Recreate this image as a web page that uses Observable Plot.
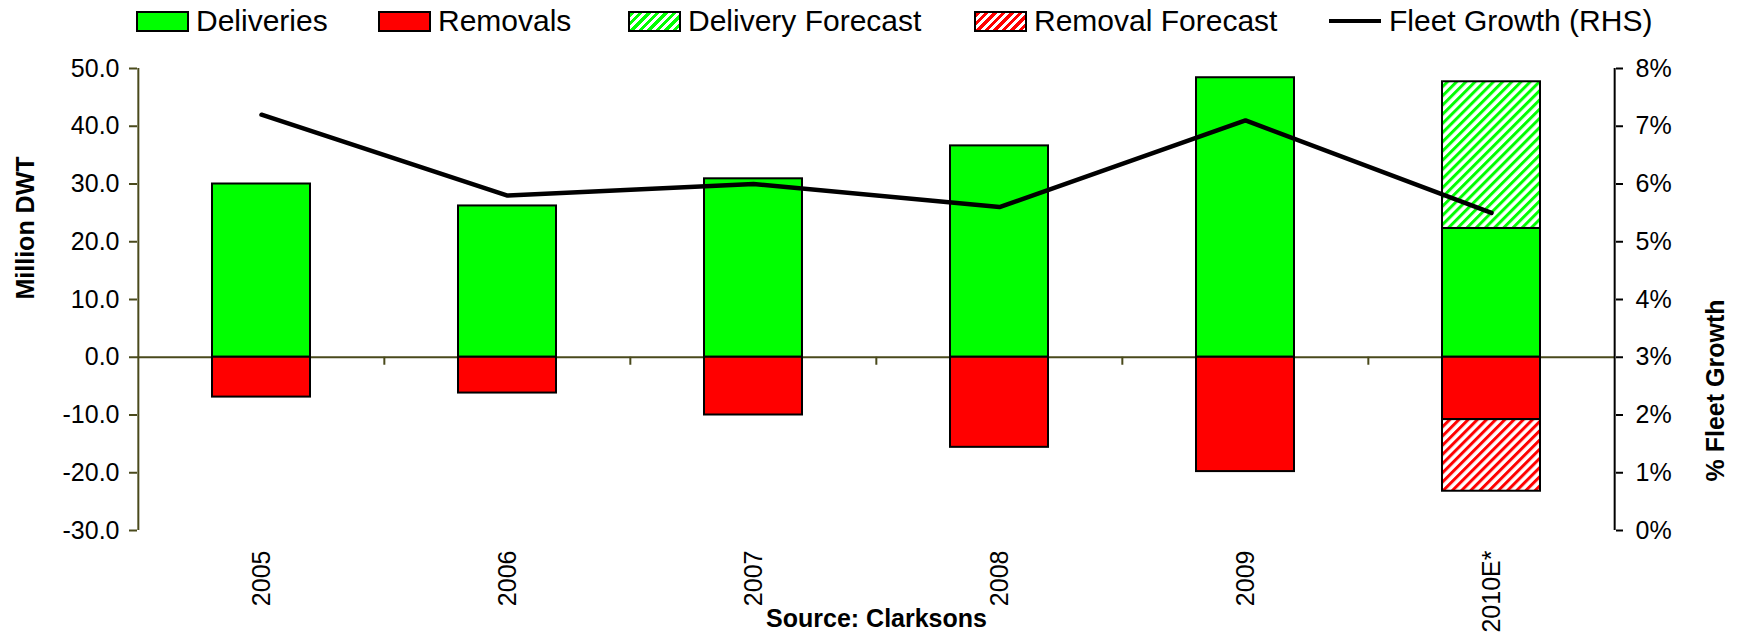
<!DOCTYPE html>
<html><head><meta charset="utf-8">
<script src="https://cdn.jsdelivr.net/npm/d3@7"></script>
<script src="https://cdn.jsdelivr.net/npm/@observablehq/plot@0.6"></script>
<style>
body{margin:0;background:#fff;font-family:"Liberation Sans",Arial,sans-serif;}
#legend{position:relative;width:1738px;height:38px;}
.item{position:absolute;top:0;height:42px;display:flex;align-items:center;font-size:30px;color:#000;white-space:nowrap;}
.sw{width:49px;height:17px;border:2px solid #000;margin-right:7px;box-sizing:content-box;}
.ln{width:52px;height:4px;background:#000;margin-right:8px;}
</style></head><body>
<div id="legend"></div><div id="chart"></div>
<script>
const years = ["2005","2006","2007","2008","2009","2010E*"];
const deliveries = [30.0, 26.2, 30.9, 36.6, 48.4, 22.3];
const deliveryForecast = [0, 0, 0, 0, 0, 25.4];
const removals = [-6.9, -6.2, -10.0, -15.6, -19.8, -10.8];
const removalForecast = [0, 0, 0, 0, 0, -12.4];
const fleetGrowth = [7.2, 5.8, 6.0, 5.6, 7.1, 5.5];
const leftTicks = [-30, -20, -10, 0, 10, 20, 30, 40, 50];
const rightTicks = [0, 1, 2, 3, 4, 5, 6, 7, 8];
const legendItems = ["Deliveries", "Removals", "Delivery Forecast", "Removal Forecast", "Fleet Growth (RHS)"];

const GREEN = "#00ff00", RED = "#ff0000", OLIVE = "#4a4a1c";
const W = 1738, H = 601, ML = 137, MR = 123, MT = 30, MB = 109;
const leftDomain = [leftTicks[0], leftTicks[leftTicks.length - 1]];
const rightDomain = [rightTicks[0], rightTicks[rightTicks.length - 1]];
const toLeft = r => leftDomain[0] + (r - rightDomain[0]) * (leftDomain[1] - leftDomain[0]) / (rightDomain[1] - rightDomain[0]);
const fromLeft = v => rightDomain[0] + (v - leftDomain[0]) * (rightDomain[1] - rightDomain[0]) / (leftDomain[1] - leftDomain[0]);

// legend
const legendStyles = [
  {left: 136, bg: GREEN},
  {left: 378, bg: RED},
  {left: 628, bg: `repeating-linear-gradient(135deg, ${GREEN} 0 3px, #fff 3px 6px)`},
  {left: 974, bg: `repeating-linear-gradient(135deg, ${RED} 0 3px, #fff 3px 6px)`},
  {left: 1329, line: true}
];
const leg = document.getElementById("legend");
legendItems.forEach((name, i) => {
  const s = legendStyles[i];
  const it = document.createElement("div");
  it.className = "item"; it.style.left = s.left + "px";
  const sw = document.createElement("div");
  if (s.line) sw.className = "ln"; else { sw.className = "sw"; sw.style.background = s.bg; }
  it.appendChild(sw);
  const t = document.createElement("span"); t.textContent = name; it.appendChild(t);
  leg.appendChild(it);
});

// data tables
const segs = [];
years.forEach((yr, i) => {
  segs.push({year: yr, kind: "Deliveries", y1: 0, y2: deliveries[i]});
  if (deliveryForecast[i]) segs.push({year: yr, kind: "Delivery Forecast", y1: deliveries[i], y2: deliveries[i] + deliveryForecast[i]});
  segs.push({year: yr, kind: "Removals", y1: 0, y2: removals[i]});
  if (removalForecast[i]) segs.push({year: yr, kind: "Removal Forecast", y1: removals[i], y2: removals[i] + removalForecast[i]});
});
const growth = years.map((yr, i) => ({year: yr, v: toLeft(fleetGrowth[i])}));
const fills = {"Deliveries": GREEN, "Removals": RED, "Delivery Forecast": "url(#hatchG)", "Removal Forecast": "url(#hatchR)"};

const step = (W - ML - MR) / years.length;
const pxPerUnit = (H - MT - MB) / (leftDomain[1] - leftDomain[0]);

const chart = Plot.plot({
  width: W, height: H,
  marginLeft: ML, marginRight: MR, marginTop: MT, marginBottom: MB,
  style: {fontFamily: '"Liberation Sans", Arial, sans-serif', fontSize: "25px", background: "#fff", color: "#000"},
  x: {domain: years, paddingInner: 0.6, paddingOuter: 0.3, align: 0.5},
  y: {domain: leftDomain},
  marks: [
    Plot.ruleY([0], {stroke: OLIVE, strokeWidth: 2}),
    Plot.ruleX(years.slice(1), {x: d => d, y1: 0, y2: -8 / pxPerUnit, dx: -step / 2, stroke: OLIVE, strokeWidth: 2}),
    // left and right axis lines at the frame edges
    Plot.ruleX([years[0]], {x: d => d, y1: leftDomain[0], y2: leftDomain[1], dx: -step / 2, stroke: OLIVE, strokeWidth: 2}),
    Plot.ruleX([years[years.length - 1]], {x: d => d, y1: leftDomain[0], y2: leftDomain[1], dx: step / 2, stroke: "#000", strokeWidth: 2}),
    ...Object.keys(fills).map(k => Plot.barY(segs.filter(d => d.kind === k), {x: "year", y1: "y1", y2: "y2", fill: fills[k], stroke: "#000", strokeWidth: 2})),
    Plot.line(growth, {x: "year", y: "v", stroke: "#000", strokeWidth: 4.5}),
    Plot.axisY({anchor: "left", ticks: leftTicks, tickFormat: d => d.toFixed(1), tickSize: 8, tickPadding: 10, fontSize: 25, stroke: OLIVE, strokeWidth: 2, label: null}),
    Plot.axisY({anchor: "right", ticks: rightTicks.map(toLeft), tickFormat: d => Math.round(fromLeft(d)) + "%", tickSize: 7, tickPadding: 13, fontSize: 25, stroke: "#000", strokeWidth: 2, label: null}),
    Plot.axisX({anchor: "bottom", tickSize: 0, tickPadding: 20, tickRotate: -90, fontSize: 25, label: null}),
    Plot.text(["Million DWT"], {frameAnchor: "left", dx: -112, rotate: -90, fontWeight: "bold", fontSize: 25}),
    Plot.text(["% Fleet Growth"], {frameAnchor: "right", dx: 100, rotate: -90, fontWeight: "bold", fontSize: 25}),
    Plot.text(["Source: Clarksons"], {frameAnchor: "bottom", dy: 96, fontWeight: "bold", fontSize: 25})
  ]
});

// hatch patterns
const NS = "http://www.w3.org/2000/svg";
const defs = document.createElementNS(NS, "defs");
[["hatchG", GREEN], ["hatchR", RED]].forEach(([id, c]) => {
  const p = document.createElementNS(NS, "pattern");
  p.setAttribute("id", id); p.setAttribute("patternUnits", "userSpaceOnUse");
  p.setAttribute("width", "6.5"); p.setAttribute("height", "6.5");
  p.setAttribute("patternTransform", "rotate(45)");
  const bg = document.createElementNS(NS, "rect");
  bg.setAttribute("width", "6.5"); bg.setAttribute("height", "6.5"); bg.setAttribute("fill", "#fff");
  const r = document.createElementNS(NS, "rect");
  r.setAttribute("width", "3"); r.setAttribute("height", "6.5"); r.setAttribute("fill", c);
  p.appendChild(bg); p.appendChild(r); defs.appendChild(p);
});
chart.insertBefore(defs, chart.firstChild);
document.getElementById("chart").appendChild(chart);
</script>
</body></html>
